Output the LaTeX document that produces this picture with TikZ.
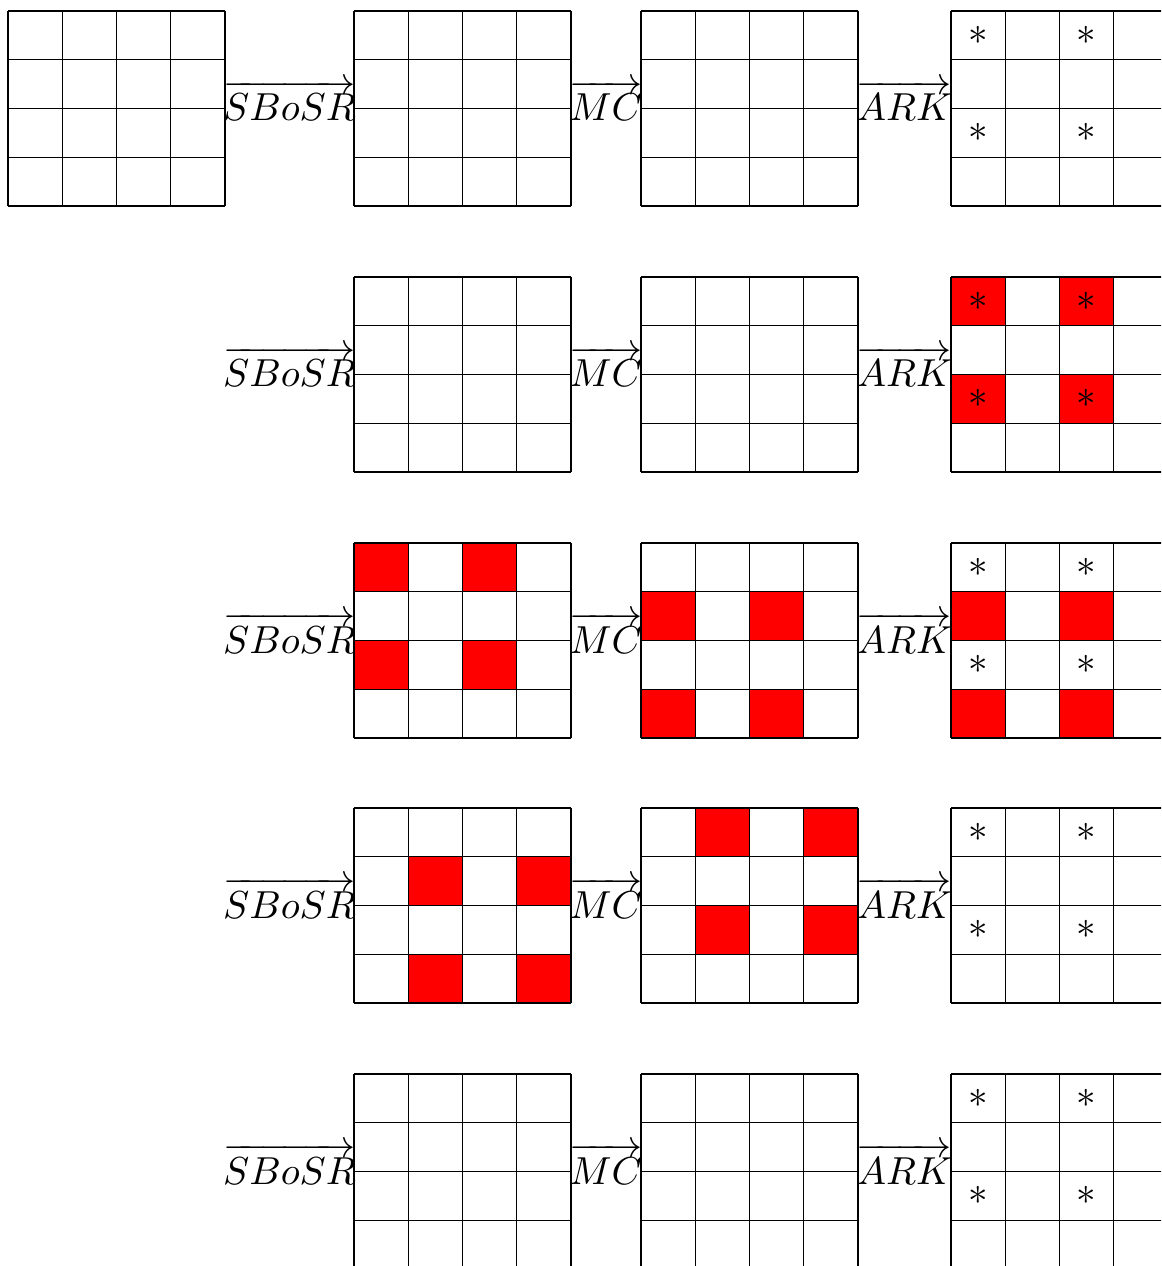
\documentclass[tikz,border=0pt]{standalone}
\usepackage{amsmath,amssymb}
\usepackage{xcolor}
\usepackage{tikz}
\usetikzlibrary{positioning}

\begin{document}
\begin{tikzpicture}[x=0.009cm,y=-0.009cm,line width=0.35pt]
  \def\cw{54.25}
  \def\ch{48.75}
  \clip (0,0) rectangle (1161,1266);
  % red cells (grid left / grid top / first col / first row)
  \foreach \gx/\gy/\c/\r in {951/277/0/0, 354/543/0/0, 641/543/0/1, 951/543/0/1,
                             354/808/1/1, 641/808/1/0}{
    \foreach \dc in {0,2}{
      \foreach \dr in {0,2}{
        \fill[red] (\gx+\c*\cw+\dc*\cw,\gy+\r*\ch+\dr*\ch) rectangle ++(\cw,\ch);
      }
    }
  }
  % the 4x4 grids
  \foreach \gx/\gy in {8/11, 354/11, 641/11, 951/11,
                       354/277, 641/277, 951/277,
                       354/543, 641/543, 951/543,
                       354/808, 641/808, 951/808,
                       354/1074, 641/1074, 951/1074}{
    \foreach \k in {0,...,4}{
      \draw (\gx+\k*\cw,\gy) -- ++(0,4*\ch);
      \draw (\gx,\gy+\k*\ch) -- ++(4*\cw,0);
    }
  }
  % stars and labels
  \foreach \gy [count=\i] in {11,277,543,808,1074}{
    \foreach \c/\r in {0/0,2/0,0/2,2/2}{
      \node (star\i\c\r) at (951+\c*\cw+\cw/2,\gy+\r*\ch+\ch/2) {$*$};
    }
    \node[anchor=base] (sbosr\i) at (289.5,\gy+110) {$\overrightarrow{SBoSR}$};
    \node[anchor=base] (mc\i) at (606,\gy+110) {$\overrightarrow{MC}$};
    \node[anchor=base] (ark\i) at (904.5,\gy+110) {$\overrightarrow{ARK}$};
  }
\end{tikzpicture}
\end{document}
